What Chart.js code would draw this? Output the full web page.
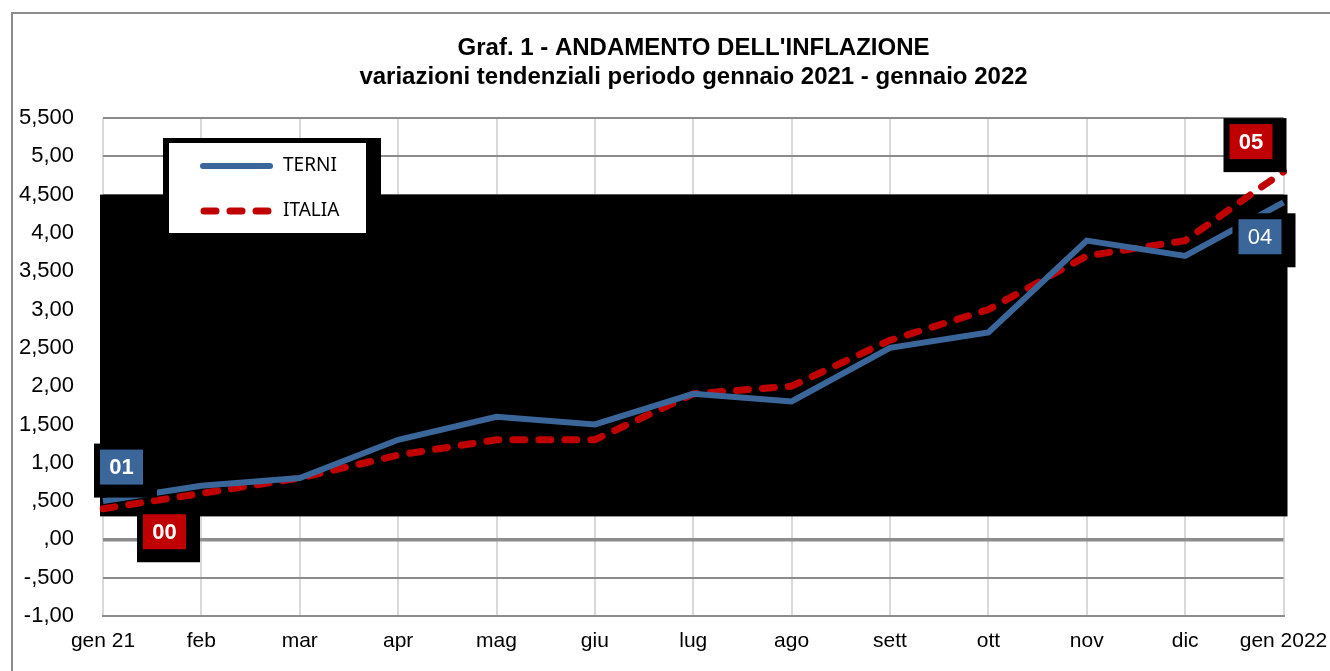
<!DOCTYPE html>
<html>
<head>
<meta charset="utf-8">
<script src="https://cdn.jsdelivr.net/npm/chart.js@4.4.1/dist/chart.umd.min.js"></script>
<style>
  html, body { margin: 0; padding: 0; background: #fff; }
  #wrap { width: 1330px; height: 671px; position: relative; }
</style>
</head>
<body>
<div id="wrap"><canvas id="grafico" width="1330" height="671"></canvas></div>
<script>
// dati
const mesi = ['gen 21', 'feb', 'mar', 'apr', 'mag', 'giu', 'lug', 'ago', 'sett', 'ott', 'nov', 'dic', 'gen 2022'];
const terni = [0.5, 0.7, 0.8, 1.3, 1.6, 1.5, 1.9, 1.8, 2.5, 2.7, 3.9, 3.7, 4.4];
const italia = [0.4, 0.6, 0.8, 1.1, 1.3, 1.3, 1.9, 2.0, 2.6, 3.0, 3.7, 3.9, 4.8];
const tickY = ['-1,00', '-,500', ',00', ',500', '1,00', '1,500', '2,00', '2,500', '3,00', '3,500', '4,00', '4,500', '5,00', '5,500'];
const titolo = ['Graf. 1 - ANDAMENTO DELL\'INFLAZIONE', 'variazioni tendenziali periodo gennaio 2021 - gennaio 2022'];
const etichette = [
  { serie: 0, indice: 0, testo: '01', dx: 18.5, dy: -34, bold: true },
  { serie: 1, indice: 0, testo: '00', dx: 61.5, dy: 23, bold: true },
  { serie: 1, indice: 12, testo: '05', dx: -32.5, dy: -30, bold: true },
  { serie: 0, indice: 12, testo: '04', dx: -23.5, dy: 34.5, bold: false }
];

const BLU = '#3B6699';
const ROSSO = '#C00000';

const sfondo = {
  id: 'sfondo',
  beforeDatasetsDraw(chart) {
    const { ctx, chartArea, scales } = chart;
    const y = scales.y;
    ctx.save();
    // fascia nera dietro le linee
    const top = y.getPixelForValue(4.5);
    const bot = y.getPixelForValue(0.3);
    ctx.fillStyle = '#000';
    ctx.fillRect(chartArea.left - 3, top, chartArea.right - chartArea.left + 7, bot - top);
    // legenda
    ctx.fillRect(163, 138, 218, 90);
    ctx.fillStyle = '#fff';
    ctx.fillRect(169, 143, 197, 90);
    ctx.lineWidth = 6;
    ctx.lineCap = 'round';
    ctx.strokeStyle = BLU;
    ctx.beginPath(); ctx.moveTo(203, 166); ctx.lineTo(270, 166); ctx.stroke();
    ctx.strokeStyle = ROSSO;
    ctx.lineWidth = 7;
    ctx.setLineDash([12, 14]);
    ctx.beginPath(); ctx.moveTo(204, 211); ctx.lineTo(275, 211); ctx.stroke();
    ctx.setLineDash([]);
    ctx.fillStyle = '#000';
    ctx.font = '19px "Liberation Sans Narrow", "Noto Sans", sans-serif';
    ctx.textBaseline = 'middle';
    ctx.fillText('TERNI', 283, 166);
    ctx.fillText('ITALIA', 283, 211);
    ctx.restore();
  },
  afterDatasetsDraw(chart) {
    const { ctx } = chart;
    ctx.save();
    etichette.forEach(e => {
      const p = chart.getDatasetMeta(e.serie).data[e.indice];
      const cx = p.x + e.dx, cy = p.y + e.dy;
      const w = 43, h = 35;
      ctx.fillStyle = '#000';
      ctx.fillRect(cx - w / 2 - 6, cy - h / 2 - 6, w + 20, h + 19);
      ctx.fillStyle = e.serie === 0 ? BLU : ROSSO;
      ctx.fillRect(cx - w / 2, cy - h / 2, w, h);
      ctx.fillStyle = '#fff';
      ctx.font = (e.bold ? 'bold ' : '') + '22px "Liberation Sans", Arial, sans-serif';
      ctx.textAlign = 'center';
      ctx.textBaseline = 'middle';
      ctx.fillText(e.testo, cx, cy + 1);
    });
    ctx.restore();
  },
  afterDraw(chart) {
    const { ctx } = chart;
    ctx.save();
    ctx.strokeStyle = '#8c8c8c';
    ctx.lineWidth = 2;
    ctx.beginPath(); ctx.moveTo(12, 671); ctx.lineTo(12, 13); ctx.lineTo(1330, 13); ctx.stroke();
    ctx.fillStyle = '#000';
    ctx.font = 'bold 24px "Liberation Sans", Arial, sans-serif';
    ctx.textAlign = 'center';
    ctx.textBaseline = 'middle';
    ctx.fillText(titolo[0], 693.5, 48);
    ctx.fillText(titolo[1], 693.5, 77);
    ctx.restore();
  }
};

new Chart(document.getElementById('grafico'), {
  type: 'line',
  data: {
    labels: mesi,
    datasets: [
      {
        label: 'TERNI',
        data: terni,
        borderColor: BLU,
        borderWidth: 6,
        pointRadius: 0,
        tension: 0
      },
      {
        label: 'ITALIA',
        data: italia,
        borderColor: ROSSO,
        borderWidth: 7,
        borderDash: [12, 14],
        borderCapStyle: 'round',
        pointRadius: 0,
        tension: 0
      }
    ]
  },
  options: {
    responsive: false,
    animation: false,
    layout: { padding: { left: 0, right: 46.5, top: 118, bottom: 15 } },
    plugins: {
      legend: { display: false },
      title: { display: false },
      tooltip: { enabled: false }
    },
    scales: {
      x: {
        offset: false,
        afterFit: s => { s.height = 40; s.paddingLeft = 0; s.paddingRight = 0; },
        grid: { color: '#d9d9d9', lineWidth: 2, drawTicks: false },
        border: { color: '#8c8c8c', width: 2 },
        ticks: {
          color: '#000',
          padding: 13,
          maxRotation: 0,
          autoSkip: false,
          font: { family: '"Liberation Sans", Arial, sans-serif', size: 21 }
        }
      },
      y: {
        min: -1,
        max: 5.5,
        afterFit: s => { s.width = 103; },
        grid: {
          color: '#8c8c8c',
          lineWidth: c => (c.tick && c.tick.value === 0 ? 3.5 : 2),
          drawTicks: false
        },
        border: { display: false },
        ticks: {
          stepSize: 0.5,
          padding: 29,
          color: '#000',
          font: { family: '"Liberation Sans", Arial, sans-serif', size: 22 },
          callback: (v, i) => tickY[i]
        }
      }
    }
  },
  plugins: [sfondo]
});
</script>
</body>
</html>
